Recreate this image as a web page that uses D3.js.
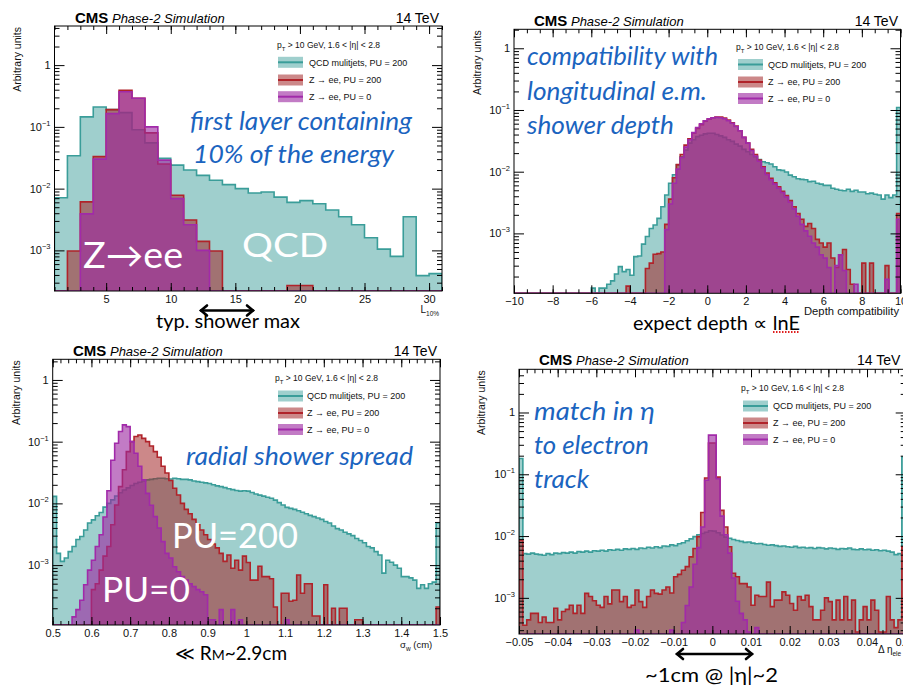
<!DOCTYPE html>
<html>
<head>
<meta charset="utf-8">
<script src="https://cdn.jsdelivr.net/npm/d3@7"></script>
<style>
body{margin:0;background:#fff}
svg{display:block}
</style>
</head>
<body>
<svg id="chart" width="903" height="688"></svg>
<script>
// ---- data (arbitrary units, one value per bin) ----
let seriesNames=["QCD mulitjets, PU = 200","Z \u2192 ee, PU = 200","Z \u2192 ee, PU = 0"];

// L10% : bins of width 1 from 1 to 31
let qcd1=[7.1e-3,0.034,0.145,0.21,0.19,0.17,0.09,0.055,0.031,0.024,0.02,0.0164,0.0137,0.0116,0.01,0.0085,0.0088,0.0073,0.006,0.0064,0.0057,0.0045,0.0035,0.0026,0.0016,0.00105,0.0008,0.0035,0.00039,0.00042];
let zee200_1=[0,9.8e-4,6.1e-3,0.033,0.19,0.39,0.29,0.08,0.025,7.8e-3,3.1e-3,1.4e-3,9.8e-4,0,0,0,0,0,2.7e-4,2.7e-4,0,0,0,0,0,0,0,0,0,0];
let zee0_1=[0,0,3.9e-3,0.030,0.164,0.37,0.29,0.1,0.029,6.9e-3,2.6e-3,1.0e-3,0,0,0,0,0,0,0,0,0,0,0,0,0,0,0,0,0,0];

// depth compatibility : 100 bins from -10 to 10
let qcd2=[0,0,0,0,0,0,0,0,0,0, 0,0,0,0,0,0,0,0,0,0,
 1.3e-4,0,1.3e-4,1.3e-4,1.5e-4,1.7e-4,2.2e-4,2.9e-4,2.4e-4,2.6e-4,
 2.1e-4,4.2e-4,4.3e-4,6.7e-4,8.9e-4,1.2e-3,1.37e-3,1.75e-3,2.7e-3,4.2e-3,
 6.5e-3,8.9e-3,0.0129,0.0175,0.0224,0.029,0.033,0.037,0.039,0.041,
 0.042,0.042,0.040,0.038,0.036,0.033,0.031,0.028,0.026,0.023,
 0.021,0.019,0.0175,0.0158,0.0145,0.014,0.0133,0.012,0.0107,0.0105,
 0.0099,0.0088,0.0083,0.0077,0.0075,0.0074,0.0069,0.007,0.0065,0.0063,
 0.006,0.006,0.0054,0.0052,0.005,0.0049,0.0052,0.0048,0.005,0.0047,
 0.0047,0.0044,0.0045,0.0043,0.0042,0.0036,0.0042,0.0038,0.0042,0.11];
let zee200_2=[0,0,0,0,0,0,0,0,0,0, 0,0,0,0,0,0,0,0,0,0,
 0,0,0,0,0,0,0,0,0,1.4e-4,
 0,0,0,0,2.7e-4,3.3e-4,4.6e-4,4.7e-4,5.0e-4,1.4e-3,
 3.6e-3,8e-3,0.013,0.019,0.027,0.034,0.042,0.05,0.058,0.066,
 0.071,0.075,0.077,0.077,0.074,0.069,0.062,0.055,0.046,0.036,
 0.029,0.023,0.019,0.0155,0.012,0.0095,0.0078,0.0066,0.0057,0.0048,
 0.0041,0.0034,0.0027,0.0021,0.0017,0.0013,0.00145,0.0012,0.0008,0.0007,
 0.0006,0.0007,0.0004,0.00028,0.00045,0.00055,0.00026,0.00015,0,0,
 0.00033,0,0.00033,0,0,0,0.0003,0,0,0.0021];
let zee0_2=[0,0,0,0,0,0,0,0,0,0, 0,0,0,0,0,0,0,0,0,0, 0,0,0,0,0,0,0,0,0,0,
 0,0,0,0,0,0,0,0,0,1.15e-3,
 3e-3,6.5e-3,0.011,0.017,0.025,0.033,0.043,0.052,0.06,0.067,
 0.072,0.075,0.076,0.075,0.072,0.067,0.061,0.054,0.046,0.036,
 0.029,0.022,0.018,0.0148,0.0115,0.009,0.0074,0.0063,0.0054,0.0046,
 0.0039,0.0032,0.0025,0.0019,0.0014,0.0011,0.0009,0.0007,0.0006,0.00045,
 0.0004,0.00028,0,0.0003,0.00045,0.00025,0,0,0.00015,0,
 0,0,0,0,0,0,0.00018,0,0,0.0017];

// sigma_w (cm) : 100 bins from 0.5 to 1.5
let qcd3=[0.013,1.55e-3,1.15e-3,1.3e-3,1.65e-3,2.0e-3,2.6e-3,2.9e-3,3.7e-3,4.8e-3,
 5.4e-3,6.3e-3,7.1e-3,8.7e-3,0.01,0.0114,0.0132,0.0149,0.0165,0.0178,
 0.0195,0.021,0.022,0.023,0.024,0.0245,0.025,0.0255,0.0255,0.025,
 0.0248,0.0255,0.025,0.0245,0.0245,0.024,0.023,0.0225,0.022,0.0215,
 0.021,0.020,0.0192,0.0187,0.018,0.0173,0.0167,0.0162,0.0158,0.016,
 0.0158,0.015,0.0142,0.0136,0.0131,0.0126,0.0121,0.0113,0.0103,0.0094,
 0.0086,0.0083,0.008,0.0076,0.0072,0.0068,0.0064,0.0061,0.0058,0.0055,
 0.0051,0.0048,0.0043,0.0039,0.0037,0.0034,0.0032,0.003,0.0027,0.0025,
 0.0023,0.002,0.0019,0.00165,0.00146,0.00074,0.0012,0.00111,0.001,0.00089,
 0.00065,0.00065,0.00062,0.00057,0.00042,0.00048,0.00042,0.0005,0.00053,0.0048];
let zee200_3=[0,0,0,0,0,0,0,0,0,0,
 4.0e-4,5.0e-4,8.3e-4,1.4e-3,2.0e-3,4.5e-3,9.4e-3,0.0187,0.035,0.069,
 0.1,0.121,0.128,0.113,0.1,0.085,0.069,0.056,0.04,0.031,
 0.0235,0.0176,0.0137,0.01,0.008,0.0068,0.0055,0.0045,0.0037,0.0031,
 0.0026,0.0022,0.0019,0.00155,0.00115,0.00146,0.00089,0.0012,0.00083,0.0014,
 0.0011,5.7e-4,5.7e-4,9.6e-4,6.5e-4,6.5e-4,6e-4,2.1e-4,0,3.5e-4,
 3.5e-4,2.6e-4,2.7e-4,6.9e-4,3.5e-4,5e-4,5e-4,1.5e-4,1.5e-4,0,
 4.8e-4,0,2e-4,0,2e-4,2e-4,0,0,1.3e-4,1.3e-4,
 0,0,0,0,0,0,0,0,0,0,
 0,0,0,0,0,0,0,0,0,2.1e-4];
let zee0_3=[0,0,0,0,0,1.45e-4,1.9e-4,2.7e-4,4.8e-4,8.3e-4,
 1.2e-3,2.0e-3,3.1e-3,6e-3,0.016,0.05,0.094,0.146,0.187,0.175,
 0.1,0.065,0.04,0.024,0.0145,0.0093,0.0061,0.004,0.0024,0.00155,
 0.0013,0.00094,0.00078,0.00065,0.00057,0.0005,0.00045,0.0004,0.00037,0.00033,
 0.00013,0.00013,0,1.9e-4,0,0,1.9e-4,0,1.3e-4,0,
 0,0,0,0,0,0,0,0,0,0,
 1.3e-4,0,0,0,0,0,0,0,0,0,
 0,0,0,0,0,0,0,0,0,0, 0,0,0,0,0,0,0,0,0,0, 0,0,0,0,0,0,0,0,0,0];

// delta eta (ele) : 100 bins from -0.05 to 0.05
let qcd4=[0.18,0.0052,0.0051,0.0053,0.0051,0.005,0.0049,0.0052,0.005,0.0053,
 0.0052,0.0054,0.0053,0.0055,0.0053,0.0056,0.0055,0.0057,0.0055,0.0058,
 0.0057,0.0059,0.0057,0.006,0.0059,0.0061,0.0059,0.0062,0.0061,0.0063,
 0.0061,0.0064,0.0063,0.0066,0.0064,0.0067,0.0065,0.0069,0.0068,0.0072,
 0.007,0.0075,0.0078,0.0084,0.009,0.0098,0.0105,0.011,0.0115,0.0122,
 0.012,0.0113,0.0104,0.0096,0.0092,0.0088,0.0085,0.0082,0.0079,0.008,
 0.0077,0.0075,0.0076,0.0073,0.0071,0.0072,0.007,0.0068,0.0069,0.0067,
 0.0066,0.0068,0.0065,0.0066,0.0064,0.0065,0.0063,0.0065,0.0064,0.0062,
 0.0064,0.0063,0.0061,0.0063,0.0062,0.0064,0.0061,0.006,0.0062,0.006,
 0.0061,0.0059,0.006,0.0058,0.0059,0.0057,0.0055,0.005,0.0052,0.19];
let zee200_4=[0.0085,3.6e-4,4.4e-4,5.6e-4,5.6e-4,4.0e-4,4.9e-4,4.0e-4,4.0e-4,6.8e-4,
 4.4e-4,6.0e-4,6.5e-4,7.6e-4,5.6e-4,7.6e-4,5.6e-4,1.18e-3,1.05e-3,9e-4,
 7.6e-4,7e-4,1.05e-3,8e-4,1.34e-3,1.34e-3,8.7e-4,1.05e-3,7e-4,7.6e-4,
 1.34e-3,8.7e-4,7e-4,1.05e-3,1.34e-3,1.18e-3,1.15e-3,1.34e-3,1.5e-3,1.2e-3,
 2.2e-3,2.4e-3,2.8e-3,3.2e-3,4.6e-3,6.3e-3,9.8e-3,0.024,0.087,0.32,
 0.32,0.09,0.026,0.014,0.0067,0.0025,0.0022,0.0017,0.0017,0.0015,
 7.6e-4,1.1e-3,1.05e-3,1.05e-3,1.8e-3,7.2e-4,9.2e-4,9.2e-4,1.25e-3,1.1e-3,
 8.1e-4,6.3e-4,1.05e-3,9.2e-4,1.1e-3,7.2e-4,4.4e-4,4.4e-4,6.3e-4,1e-3,
 8.7e-4,4.4e-4,9.2e-4,4.4e-4,1.05e-3,4.4e-4,9.2e-4,2.8e-4,4.4e-4,7.2e-4,
 4.4e-4,9.2e-4,6.3e-4,2.8e-4,2.8e-4,1.05e-3,4.4e-4,3.3e-4,4.4e-4,0.0067];
let zee0_4=[0,0,0,0,0,0,0,0,0,0, 0,0,0,0,0,0,0,0,0,0, 0,0,0,0,0,0,0,0,0,0,
 3e-4,0,0,0,0,0,0,0,0,3e-4,
 0,0,4e-4,7.5e-4,1.5e-3,3.5e-3,6.5e-3,0.014,0.08,0.43,
 0.43,0.085,0.021,0.0105,0.0053,0.0021,0.00088,5.6e-4,4.4e-4,2.8e-4,
 0,3.3e-4,0,0,0,0,0,0,0,0,
 0,0,0,0,0,0,0,0,0,0, 0,0,0,0,0,0,0,0,0,0, 0,0,0,0,0,0,0,0,0,0];

// tick labels
let xMajor1=[5,10,15,20,25,30];
let xMajor2=[-10,-8,-6,-4,-2,0,2,4,6,8,10];
let xMajor3=[0.5,0.6,0.7,0.8,0.9,1,1.1,1.2,1.3,1.4,1.5];
let xMajor4=[-0.05,-0.04,-0.03,-0.02,-0.01,0,0.01,0.02,0.03,0.04,0.05];
let yMajor=[1e-3,1e-2,1e-1,1];

// bin edges
let edges1=d3.range(1,32,1);
let edges2=d3.range(0,101).map(i=>-10+0.2*i);
let edges3=d3.range(0,101).map(i=>0.5+0.01*i);
let edges4=d3.range(0,101).map(i=>-0.05+0.001*i);

let styles=[
  {line:"#3a9d99",fill:"#3f9f9b",op:0.5},
  {line:"#b0232a",fill:"#a32628",op:0.55},
  {line:"#a12aa9",fill:"#9c2aa2",op:0.62}
];
let fmt=d3.format("~g");
let sans="'Liberation Sans', Arial, Helvetica, sans-serif";
let gill="Lato, 'Open Sans', sans-serif";
let blue="#1b64bf";

let panels=[
  {id:1,x0:54.5,x1:442,y0:26,y1:291,xDomain:[1,31],yDomain:[2.2e-4,4.3],edges:edges1,
   data:[qcd1,zee200_1,zee0_1],xMajor:xMajor1,xMinor:d3.range(1,32,1),
   cms:[75,23],tev:[439,23,"end"],ylab:20.5,leg:{ptX:277,ptY:48,boxX:278,rows:[62.3,80,96.7],textX:309}},
  {id:2,x0:514,x1:900.5,y0:29.3,y1:293.3,xDomain:[-10,10],yDomain:[1.07e-4,2.03],edges:edges2,
   data:[qcd2,zee200_2,zee0_2],xMajor:xMajor2,xMinor:d3.range(-10,10.01,2/3),
   cms:[534,25.5],tev:[898,25.5,"end"],ylab:480.5,leg:{ptX:736,ptY:50,boxX:738,rows:[64.5,82,98.5],textX:768}},
  {id:3,x0:52.7,x1:440,y0:359.3,y1:625,xDomain:[0.5,1.5],yDomain:[1.07e-4,2.16],edges:edges3,
   data:[qcd3,zee200_3,zee0_3],xMajor:xMajor3,xMinor:d3.range(0.5,1.501,0.02),
   cms:[73,356],tev:[437,356,"end"],ylab:19.5,leg:{ptX:275,ptY:381,boxX:278,rows:[396,413,429.5],textX:307}},
  {id:4,x0:519,x1:905.7,y0:369.3,y1:634,xDomain:[-0.05,0.05],yDomain:[2.6e-4,5.0],edges:edges4,
   data:[qcd4,zee200_4,zee0_4],xMajor:xMajor4,xMinor:d3.range(-0.05,0.0501,0.002),
   cms:[539,365],tev:[857,365,"start"],ylab:485,leg:{ptX:741,ptY:391,boxX:743,rows:[406,423,439.5],textX:773}}
];

let svg=d3.select("#chart");
svg.append("rect").attr("width",903).attr("height",688).attr("fill","#fff");

function styleAxis(g){
  g.select(".domain").remove();
  g.selectAll("line").attr("stroke","#000").attr("stroke-width",1);
  g.attr("font-family",sans).attr("font-size",11);
  g.selectAll("text").attr("fill","#111");
}

function drawPanel(p){
  let x=d3.scaleLinear().domain(p.xDomain).range([p.x0,p.x1]);
  let y=d3.scaleLog().domain(p.yDomain).range([p.y1,p.y0]);
  let yy=v=>v<=p.yDomain[0]?p.y1:Math.max(y(v),p.y0-2);
  let g=svg.append("g");

  svg.append("clipPath").attr("id","clip"+p.id).append("rect")
    .attr("x",p.x0).attr("y",p.y0).attr("width",p.x1-p.x0).attr("height",p.y1-p.y0);

  let line=d3.line().x(d=>x(d[0])).y(d=>yy(d[1]));
  let hg=g.append("g").attr("clip-path","url(#clip"+p.id+")");
  p.data.forEach((vals,si)=>{
    let pts=[[p.edges[0],0]];
    vals.forEach((v,i)=>{pts.push([p.edges[i],v]);pts.push([p.edges[i+1],v]);});
    pts.push([p.edges[vals.length],0]);
    hg.append("path").attr("d",line(pts)+"Z").attr("fill",styles[si].fill).attr("fill-opacity",styles[si].op).attr("stroke","none");
    hg.append("path").attr("d",line(pts)).attr("fill","none").attr("stroke",styles[si].line).attr("stroke-width",1.6);
  });

  // minor log ticks
  let yMinor=[];
  for(let d=-5;d<=1;d++){for(let k=2;k<=9;k++){let v=k*Math.pow(10,d);if(v>p.yDomain[0]&&v<p.yDomain[1])yMinor.push(v);}}

  g.append("g").attr("transform",`translate(0,${p.y1})`)
    .call(d3.axisBottom(x).tickValues(p.xMajor).tickSize(-8).tickPadding(4).tickFormat(fmt)).call(styleAxis);
  g.append("g").attr("transform",`translate(0,${p.y1})`)
    .call(d3.axisBottom(x).tickValues(p.xMinor).tickSize(-4).tickFormat("")).call(styleAxis);
  g.append("g").attr("transform",`translate(0,${p.y0})`)
    .call(d3.axisTop(x).tickValues(p.xMajor).tickSize(-8).tickFormat("")).call(styleAxis);
  g.append("g").attr("transform",`translate(0,${p.y0})`)
    .call(d3.axisTop(x).tickValues(p.xMinor).tickSize(-4).tickFormat("")).call(styleAxis);
  g.append("g").attr("transform",`translate(${p.x0},0)`)
    .call(d3.axisLeft(y).tickValues(yMajor).tickSize(-10).tickFormat("")).call(styleAxis);
  g.append("g").attr("transform",`translate(${p.x0},0)`)
    .call(d3.axisLeft(y).tickValues(yMinor).tickSize(-5).tickFormat("")).call(styleAxis);
  g.append("g").attr("transform",`translate(${p.x1},0)`)
    .call(d3.axisRight(y).tickValues(yMajor).tickSize(-10).tickFormat("")).call(styleAxis);
  g.append("g").attr("transform",`translate(${p.x1},0)`)
    .call(d3.axisRight(y).tickValues(yMinor).tickSize(-5).tickFormat("")).call(styleAxis);

  // y labels 1, 10^-1 ...
  yMajor.forEach(v=>{
    let t=g.append("text").attr("x",p.x0-4).attr("y",y(v)+4).attr("text-anchor","end")
      .attr("font-family",sans).attr("font-size",11).attr("fill","#111");
    if(v===1){t.text("1");}
    else{
      t.append("tspan").text("10");
      t.append("tspan").attr("dy",-5).attr("font-size",7.5).text("\u2212"+Math.round(-Math.log10(v)));
    }
  });

  g.append("rect").attr("x",p.x0).attr("y",p.y0).attr("width",p.x1-p.x0).attr("height",p.y1-p.y0)
    .attr("fill","none").attr("stroke","#000").attr("stroke-width",1);

  // title
  let tt=g.append("text").attr("x",p.cms[0]).attr("y",p.cms[1]).attr("font-family",sans).attr("fill","#000");
  tt.append("tspan").attr("font-weight","bold").attr("font-size",15).text("CMS");
  tt.append("tspan").attr("font-style","italic").attr("font-size",13).text(" Phase-2 Simulation");
  g.append("text").attr("x",p.tev[0]).attr("y",p.tev[1]).attr("text-anchor",p.tev[2])
    .attr("font-family",sans).attr("font-size",14).attr("fill","#000").text("14 TeV");

  g.append("text").attr("transform",`translate(${p.ylab},${p.y0+1}) rotate(-90)`).attr("text-anchor","end")
    .attr("font-family",sans).attr("font-size",10.5).attr("fill","#111").text("Arbitrary units");

  // legend
  let L=p.leg;
  let pt=g.append("text").attr("x",L.ptX).attr("y",L.ptY).attr("font-family",sans).attr("font-size",8.5).attr("fill","#111");
  pt.append("tspan").text("p");
  pt.append("tspan").attr("dy",2.5).attr("font-size",6).text("T");
  pt.append("tspan").attr("dy",-2.5).text(" > 10 GeV, 1.6 < |\u03b7| < 2.8");
  seriesNames.forEach((nm,si)=>{
    let yc=L.rows[si];
    g.append("rect").attr("x",L.boxX).attr("y",yc-5.5).attr("width",25).attr("height",11)
      .attr("fill",styles[si].fill).attr("fill-opacity",styles[si].op);
    g.append("line").attr("x1",L.boxX).attr("x2",L.boxX+25).attr("y1",yc).attr("y2",yc)
      .attr("stroke",styles[si].line).attr("stroke-width",2);
    g.append("text").attr("x",L.textX).attr("y",yc+3.2).attr("font-family",sans).attr("font-size",9)
      .attr("fill","#111").text(nm);
  });
}

panels.forEach(drawPanel);

// ---- axis titles ----
let a1=svg.append("text").attr("x",420.5).attr("y",312.7).attr("font-family",sans).attr("font-size",10).attr("fill","#111");
a1.append("tspan").text("L");
a1.append("tspan").attr("dy",3).attr("font-size",6.5).text("10%");
svg.append("text").attr("x",804).attr("y",315).attr("font-family",sans).attr("font-size",10)
  .attr("textLength",95).attr("lengthAdjust","spacingAndGlyphs").attr("fill","#111").text("Depth compatibility");
let a3=svg.append("text").attr("x",400).attr("y",648).attr("font-family",sans).attr("font-size",9.5).attr("fill","#111");
a3.append("tspan").text("\u03c3");
a3.append("tspan").attr("dy",2.5).attr("font-size",6.5).text("w");
a3.append("tspan").attr("dy",-2.5).text(" (cm)");
let a4=svg.append("text").attr("x",878).attr("y",652.5).attr("font-family",sans).attr("font-size",10).attr("fill","#111");
a4.append("tspan").text("\u0394 \u03b7");
a4.append("tspan").attr("dy",3).attr("font-size",6.5).text("ele");

// ---- slide annotations ----
function note(txt,xp,yp,len,size,col,italic){
  return svg.append("text").attr("x",xp).attr("y",yp).attr("font-family",gill).attr("font-size",size)
    .attr("font-style",italic?"italic":"normal").attr("fill",col)
    .attr("textLength",len).attr("lengthAdjust","spacingAndGlyphs").text(txt);
}
note("first layer containing",190,130,222,25,blue,true);
note("10% of the energy",193,163,201,25,blue,true);
note("compatibility with",527,65,191,26,blue,true);
note("longitudinal e.m.",527,99.5,180,26,blue,true);
note("shower depth",527,133.5,147,26,blue,true);
note("radial shower spread",186,465,227,25,blue,true);
note("match in \u03b7",534,419.5,121,26,blue,true);
note("to electron",534,454,115,26,blue,true);
note("track",534,488,55,26,blue,true);

note("Z\u2192ee",83,268,100,36,"#fff",false);
note("QCD",242,257,86,33,"#fff",false);
note("PU=200",172,548,126,35,"#fff",false);
note("PU=0",102,602,88,35,"#fff",false);

note("typ. shower max",156,328,144,19,"#000",false);
note("expect depth \u221d lnE",633,330,167,19,"#000",false);
let rm=svg.append("text").attr("x",175).attr("y",660).attr("font-family",gill).attr("font-size",19).attr("fill","#000");
rm.append("tspan").text("\u226a R");
rm.append("tspan").attr("font-size",14).text("M");
rm.append("tspan").text("~2.9cm");
note("~1cm @ |\u03b7|~2",645,681.5,133,19,"#000",false);

// spell-check squiggle under lnE
svg.append("line").attr("x1",773).attr("x2",800).attr("y1",332).attr("y2",332)
  .attr("stroke","#e02020").attr("stroke-width",2).attr("stroke-dasharray","1.5,1.5");

// double arrows
function dblArrow(xa,xb,yv){
  let g=svg.append("g").attr("stroke","#000").attr("stroke-width",2.6).attr("fill","none").attr("stroke-linecap","round");
  g.append("line").attr("x1",xa+1).attr("x2",xb-1).attr("y1",yv).attr("y2",yv);
  g.append("polyline").attr("points",`${xa+7},${yv-5} ${xa+1},${yv} ${xa+7},${yv+5}`);
  g.append("polyline").attr("points",`${xb-7},${yv-5} ${xb-1},${yv} ${xb-7},${yv+5}`);
}
dblArrow(200,254,310.5);
dblArrow(676,753,654);
</script>
</body>
</html>
